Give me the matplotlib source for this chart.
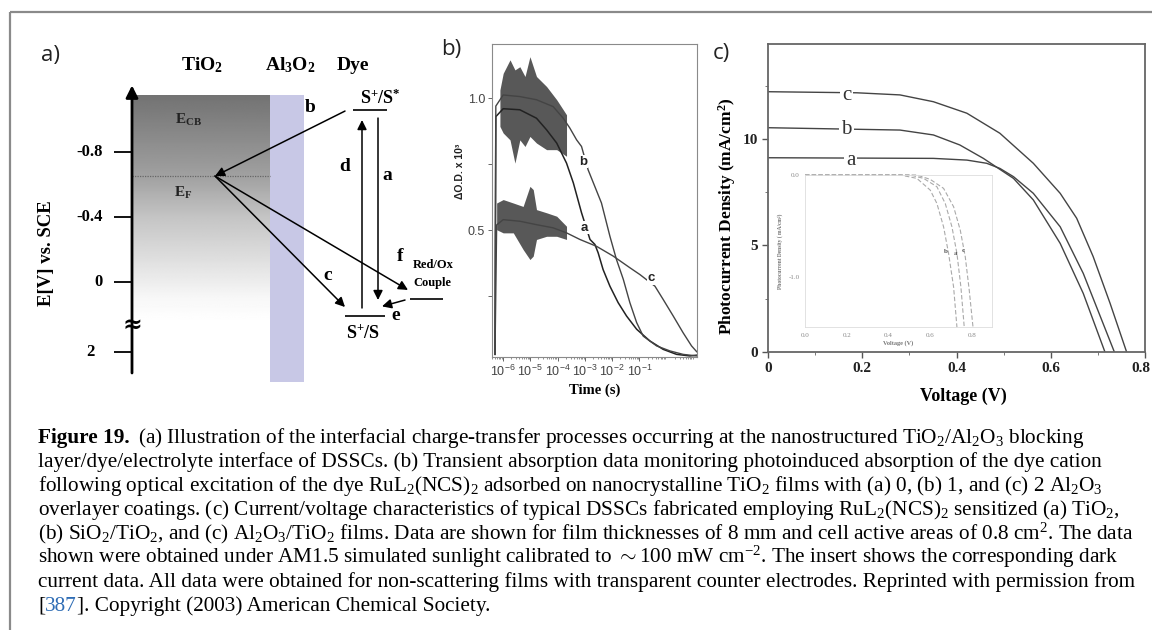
import numpy as np
import matplotlib
matplotlib.use('Agg')
import matplotlib.pyplot as plt
import matplotlib.transforms as mtransforms
from matplotlib.patches import Rectangle
from matplotlib.ticker import FixedLocator, NullFormatter

W, H = 1152, 630
plt.rcParams['font.family'] = ['Liberation Serif', 'DejaVu Serif']
plt.rcParams['mathtext.fontset'] = 'custom'
plt.rcParams['mathtext.rm'] = 'Liberation Serif'
plt.rcParams['mathtext.it'] = 'Liberation Serif:italic'
plt.rcParams['mathtext.bf'] = 'Liberation Serif:bold'
plt.rcParams['mathtext.sf'] = 'Liberation Sans'

# ---------------- data ----------------
# panel a : energy scale (V vs SCE, schematic display positions)
a_tick_pos = [-0.8, -0.4, 0.0, 0.43]
a_tick_lab = ['-0.8', '-0.4', '0', '2']
E_top, E_bottom, E_F = -1.15, 0.62, -0.652
E_Sstar, E_S, E_redox, E_break = -1.058, 0.209, 0.105, 0.265
grad_E = [-1.15, -0.652, -0.40, -0.10, 0.10, 0.25, 0.62]
grad_gray = [0.45, 0.63, 0.77, 0.89, 0.97, 1.0, 1.0]

# panel b : transient absorption (log10 time [s], dOD x 1e3)
a_logt = [-6.29, -6.26, -5.99, -5.38, -4.77, -4.40, -4.03, -3.67, -3.42, -3.12, -2.81,
          -2.63, -2.51, -2.33, -2.08, -1.78, -1.47, -1.10, -0.62, -0.13, 0.36, 0.85, 1.10]
a_od = [0.03, 0.93, 0.96, 0.956, 0.924, 0.88, 0.83, 0.754, 0.679, 0.566, 0.465,
        0.446, 0.414, 0.351, 0.288, 0.226, 0.175, 0.125, 0.081, 0.049, 0.030, 0.024, 0.027]
b_logt = [-6.29, -6.26, -5.99, -5.38, -4.77, -4.16, -3.79, -3.55, -3.30, -3.12, -2.88,
          -2.39, -2.08, -1.84, -1.59, -1.35, -1.10, -0.86, -0.37, 0.12, 0.60, 1.10]
b_od = [0.03, 0.97, 1.012, 1.006, 0.994, 0.968, 0.924, 0.887, 0.842, 0.817, 0.729,
        0.603, 0.477, 0.389, 0.314, 0.226, 0.150, 0.099, 0.062, 0.043, 0.030, 0.024]
c_logt = [-6.29, -6.23, -5.99, -5.38, -4.77, -4.16, -3.67, -3.18, -2.57, -1.96, -1.35,
          -0.98, -0.43, -0.13, 0.24, 0.60, 0.91, 1.10]
c_od = [0.03, 0.52, 0.540, 0.534, 0.521, 0.509, 0.490, 0.465, 0.439, 0.402, 0.358,
        0.332, 0.288, 0.238, 0.175, 0.112, 0.062, 0.040]
# noise envelopes at early times
ab_noise_logt = [-6.11, -5.99, -5.74, -5.56, -5.38, -5.19, -5.01, -4.77, -4.40, -4.03, -3.67]
ab_noise_hi = [1.031, 1.094, 1.145, 1.107, 1.119, 1.082, 1.157, 1.082, 1.044, 0.994, 0.937]
ab_noise_lo = [0.893, 0.868, 0.842, 0.754, 0.842, 0.817, 0.855, 0.830, 0.805, 0.805, 0.780]
c_noise_logt = [-6.23, -5.99, -5.62, -5.26, -5.01, -4.89, -4.77, -4.40, -4.03, -3.67]
c_noise_hi = [0.603, 0.616, 0.603, 0.590, 0.666, 0.654, 0.578, 0.566, 0.553, 0.515]
c_noise_lo = [0.502, 0.490, 0.490, 0.427, 0.389, 0.402, 0.465, 0.477, 0.477, 0.465]
b_xtick_exp = [-6, -5, -4, -3, -2, -1]

# panel c : J-V curves (V, mA/cm2)
jv_c_V = [0.0, 0.188, 0.280, 0.351, 0.422, 0.492, 0.563, 0.620, 0.655, 0.690, 0.726, 0.761]
jv_c_J = [12.22, 12.17, 12.07, 11.75, 11.21, 10.27, 8.86, 7.45, 6.28, 4.48, 2.28, 0.0]
jv_b_V = [0.0, 0.280, 0.351, 0.407, 0.457, 0.521, 0.563, 0.620, 0.669, 0.715]
jv_b_J = [10.53, 10.42, 10.19, 9.72, 9.09, 8.15, 7.14, 5.10, 2.75, 0.0]
jv_a_V = [0.0, 0.351, 0.422, 0.464, 0.492, 0.521, 0.563, 0.620, 0.669, 0.735]
jv_a_J = [9.12, 9.09, 9.01, 8.86, 8.62, 8.23, 7.45, 5.88, 3.69, 0.0]
# inset : dark currents
dk_b_V = [0.0, 0.456, 0.536, 0.600, 0.632, 0.664, 0.688, 0.712, 0.728]
dk_b_J = [0.0, 0.0, -0.033, -0.148, -0.279, -0.508, -0.770, -1.098, -1.492]
dk_a_V = [0.0, 0.504, 0.568, 0.632, 0.672, 0.704, 0.728, 0.747, 0.763]
dk_a_J = [0.0, 0.0, -0.033, -0.115, -0.279, -0.508, -0.770, -1.098, -1.492]
dk_c_V = [0.0, 0.536, 0.600, 0.664, 0.712, 0.744, 0.768, 0.787, 0.805]
dk_c_J = [0.0, 0.0, -0.043, -0.131, -0.311, -0.541, -0.803, -1.131, -1.492]

caption_lines = [
    r'(a) Illustration of the interfacial charge-transfer processes occurring at the nanostructured TiO$_2$/Al$_2$O$_3$ blocking',
    r'layer/dye/electrolyte interface of DSSCs. (b) Transient absorption data monitoring photoinduced absorption of the dye cation',
    r'following optical excitation of the dye RuL$_2$(NCS)$_2$ adsorbed on nanocrystalline TiO$_2$ films with (a) 0, (b) 1, and (c) 2 Al$_2$O$_3$',
    r'overlayer coatings. (c) Current/voltage characteristics of typical DSSCs fabricated employing RuL$_2$(NCS)$_2$ sensitized (a) TiO$_2$,',
    r'(b) SiO$_2$/TiO$_2$, and (c) Al$_2$O$_3$/TiO$_2$ films. Data are shown for film thicknesses of 8 mm and cell active areas of 0.8 cm$^2$. The data',
    r'shown were obtained under AM1.5 simulated sunlight calibrated to $\sim$100 mW cm$^{-2}$. The insert shows the corresponding dark',
    r'current data. All data were obtained for non-scattering films with transparent counter electrodes. Reprinted with permission from',
]
caption_last = ['[', '387', ']. Copyright (2003) American Chemical Society.']


def px(l, t, r, b):
    return [l / W, 1 - b / H, (r - l) / W, (b - t) / H]


fig = plt.figure(figsize=(W / 100, H / 100), dpi=100)

# overlay for frame and caption (pixel coordinates)
ov = fig.add_axes([0, 0, 1, 1], zorder=0)
ov.set_xlim(0, W)
ov.set_ylim(H, 0)
ov.axis('off')
ov.plot([10, W], [12, 12], color='#8a8a8a', lw=1.6, solid_capstyle='butt')
ov.plot([10, 10], [12, H], color='#8a8a8a', lw=1.6, solid_capstyle='butt')

# ---------------- panel a ----------------
axa = fig.add_axes(px(0, 30, 460, 400), zorder=1)
axa.axis('off')
gE = np.linspace(E_top, E_bottom, 300)
gray = np.interp(gE, grad_E, grad_gray)[:, None]
axa.imshow(gray, cmap='gray', vmin=0, vmax=1, aspect='auto', origin='upper',
           extent=(132, 270, E_bottom, E_top), zorder=1, interpolation='bilinear')
axa.add_patch(Rectangle((270, E_top), 34, 0.615 - E_top, facecolor='#c8c8e6', edgecolor='none', zorder=1))
axa.set_xlim(0, 460)
axa.set_ylim(0.7262, -1.5508)
axa.hlines(E_F, 132, 270, colors='#666666', linestyles=(0, (1, 1)), lw=0.9, zorder=2)
axa.annotate('', xy=(132, -1.21), xytext=(132, 0.56),
             arrowprops=dict(arrowstyle='-|>', lw=2.0, color='black', mutation_scale=18,
                             shrinkA=0, shrinkB=0), zorder=3)
axa.hlines(a_tick_pos, 114, 132, colors='black', lw=1.3, zorder=3)
for pos, lab in zip(a_tick_pos, a_tick_lab):
    axa.text(103 if lab != '2' else 95, pos, lab, ha='right', va='center', fontsize=12,
             fontweight='bold')
axa.text(132, E_break, '≈', ha='center', va='center', fontsize=17, fontweight='bold',
         family=['DejaVu Serif'], zorder=4)
axa.text(47, -0.178, 'E[V] vs. SCE', rotation=90, ha='center', va='center', fontsize=13.5,
         fontweight='bold')
axa.text(202, -1.335, r'$\mathbf{TiO_2}$', ha='center', va='center', fontsize=14)
axa.text(290, -1.335, r'$\mathbf{Al_3O_2}$', ha='center', va='center', fontsize=14)
axa.text(353, -1.335, 'Dye', ha='center', va='center', fontsize=14, fontweight='bold')
axa.text(188, -0.997, r'$\mathbf{E_{CB}}$', ha='center', va='center', fontsize=11, color='#222222')
axa.text(183, -0.548, r'$\mathbf{E_{F}}$', ha='center', va='center', fontsize=11, color='#222222')
# levels
axa.hlines(E_Sstar, 353, 387, colors='black', lw=1.2)
axa.hlines(E_S, 345, 385, colors='black', lw=1.2)
axa.hlines(E_redox, 410, 443, colors='black', lw=1.2)
axa.text(380, -1.132, r'$\mathbf{S^{+}/S^{*}}$', ha='center', va='center', fontsize=13)
axa.text(363, 0.314, r'$\mathbf{S^{+}/S}$', ha='center', va='center', fontsize=13)
axa.text(413, -0.105, 'Red/Ox', ha='left', va='center', fontsize=9, fontweight='bold')
axa.text(413, 0.006, 'Couple', ha='left', va='center', fontsize=9, fontweight='bold')
arrow_kw = dict(arrowstyle='-|>', lw=1.1, color='black', mutation_scale=14, shrinkA=0, shrinkB=0)
arrows = [((345, -1.052), (215, E_F)),
          ((215, E_F), (345, 0.154)),
          ((215, E_F), (408, 0.049)),
          ((362, 0.16), (362, -0.997)),
          ((378, -1.009), (378, 0.111)),
          ((405, 0.111), (382, 0.150))]
for start, end in arrows:
    axa.annotate('', xy=end, xytext=start, arrowprops=arrow_kw, zorder=5)
for lab, x, y in [('b', 310, -1.071), ('d', 345, -0.708), ('a', 387, -0.658),
                  ('c', 328, -0.043), ('f', 400, -0.154), ('e', 396, 0.209)]:
    axa.text(x, y, lab, ha='center', va='center', fontsize=14, fontweight='bold')

# panel labels
for lab, x, y in [('a)', 50, 55), ('b)', 451, 50), ('c)', 721, 53)]:
    fig.text(x / W, 1 - y / H, lab, ha='center', va='center', fontsize=16,
             family=['Open Sans', 'DejaVu Sans'], color='#222222')

# ---------------- panel b ----------------
axb = fig.add_axes(px(492, 44, 697, 357), zorder=1)
axb.set_xscale('log')
axb.fill_between(10 ** np.array(ab_noise_logt), ab_noise_lo, ab_noise_hi, color='#111111',
                 alpha=0.7, lw=0)
axb.fill_between(10 ** np.array(c_noise_logt), c_noise_lo, c_noise_hi, color='#111111',
                 alpha=0.7, lw=0)
axb.plot(10 ** np.array(a_logt), a_od, color='#222222', lw=1.1)
axb.plot(10 ** np.array(b_logt), b_od, color='#444444', lw=1.0)
axb.plot(10 ** np.array(c_logt), c_od, color='#444444', lw=1.0)
for lab, lt, v in [('b', -3.06, 0.76), ('a', -3.0, 0.51), ('c', -0.56, 0.32)]:
    axb.text(10 ** lt, v, lab, ha='center', va='center', fontsize=9.5, fontweight='bold',
             family=['Liberation Sans'], color='#222222',
             bbox=dict(facecolor='white', edgecolor='none', pad=0.6))
axb.set_xlim(10 ** -6.4, 10 ** 1.11)
axb.set_ylim(0.02, 1.205)
axb.xaxis.set_major_locator(FixedLocator([10.0 ** e for e in b_xtick_exp]))
axb.set_xticklabels([r'$\mathsf{10^{%d}}$' % e for e in b_xtick_exp])
axb.xaxis.set_minor_locator(FixedLocator([m * 10.0 ** e for e in range(-7, 2) for m in range(2, 10)]))
axb.xaxis.set_minor_formatter(NullFormatter())
axb.set_yticks([0.25, 0.5, 0.75, 1.0])
axb.set_yticklabels(['', '0.5', '', '1.0'])
axb.tick_params(axis='both', which='major', direction='out', length=3, width=0.7,
                colors='#666666', labelcolor='#444444', pad=2)
axb.tick_params(axis='x', which='major', labelsize=9)
axb.tick_params(axis='y', which='major', labelsize=9)
axb.tick_params(axis='x', which='minor', direction='out', length=1.6, width=0.5, colors='#666666')
for lab in axb.get_yticklabels():
    lab.set_family(['Liberation Sans'])
for s in axb.spines.values():
    s.set_color('#8a8a8a')
    s.set_linewidth(0.8)
axb.set_xlabel('Time (s)', fontsize=10.5, fontweight='bold', labelpad=3)
axb.set_ylabel('ΔO.D. x 10³', fontsize=7.5, fontweight='bold', family=['Liberation Sans'],
               color='#222222')
axb.yaxis.set_label_coords(-0.132, 0.594)

# ---------------- panel c ----------------
axc = fig.add_axes(px(768, 44, 1145, 352), zorder=1)
axc.plot(jv_c_V, jv_c_J, color='#444444', lw=1.0)
axc.plot(jv_b_V, jv_b_J, color='#444444', lw=1.0)
axc.plot(jv_a_V, jv_a_J, color='#444444', lw=1.0)
for lab, v, j in [('c', 0.167, 12.05), ('b', 0.167, 10.45), ('a', 0.175, 9.0)]:
    axc.text(v, j, lab, ha='center', va='center', fontsize=15, color='#333333',
             bbox=dict(facecolor='white', edgecolor='none', pad=1.5))
axc.set_xlim(0, 0.8)
axc.set_ylim(0, 14.46)
axc.set_xticks([0, 0.2, 0.4, 0.6, 0.8])
axc.set_xticklabels(['0', '0.2', '0.4', '0.6', '0.8'])
axc.set_yticks([0, 5, 10])
axc.set_yticklabels(['0', '5', '10'])
axc.set_xticks([0.1, 0.3, 0.5, 0.7], minor=True)
axc.set_yticks([2.5, 7.5, 12.5], minor=True)
axc.tick_params(axis='both', which='major', direction='out', length=4, width=1.0,
                colors='#555555', labelsize=11, labelcolor='#222222', pad=3)
axc.tick_params(axis='both', which='minor', direction='out', length=2, width=0.7, colors='#777777')
for lab in axc.get_xticklabels() + axc.get_yticklabels():
    lab.set_fontweight('bold')
last = axc.get_xticklabels()[-1]
last.set_transform(last.get_transform() + mtransforms.ScaledTranslation(-4 / 100, 0, fig.dpi_scale_trans))
for s in axc.spines.values():
    s.set_color('#666666')
    s.set_linewidth(1.3)
axc.set_xlabel('Voltage (V)', fontsize=13, fontweight='bold')
axc.xaxis.set_label_coords(0.517, -0.115)
axc.set_ylabel(r'Photocurrent Density (mA/cm$^\mathbf{2}$)', fontsize=12.5, fontweight='bold')
axc.yaxis.set_label_coords(-0.08, 0.44)

# inset
axi = fig.add_axes(px(805, 175, 992, 327), zorder=2)
for V, J in [(dk_b_V, dk_b_J), (dk_a_V, dk_a_J), (dk_c_V, dk_c_J)]:
    axi.plot(V, J, color='#aaaaaa', lw=0.8, ls=(0, (4, 2)), clip_on=False)
for lab, v, j in [('b', 0.675, -0.754), ('a', 0.72, -0.77), ('c', 0.76, -0.74)]:
    axi.text(v, j, lab, ha='center', va='center', fontsize=5, fontweight='bold', color='#555555')
axi.set_xlim(0, 0.896)
axi.set_ylim(-1.49, 0.0)
axi.set_xticks([0, 0.2, 0.4, 0.6, 0.8])
axi.set_xticklabels(['0.0', '0.2', '0.4', '0.6', '0.8'])
axi.set_yticks([0.0, -1.0])
axi.set_yticklabels(['0.0', '-1.0'])
axi.tick_params(axis='both', length=0, labelsize=5, labelcolor='#888888', pad=4)
for s in axi.spines.values():
    s.set_color('#dddddd')
    s.set_linewidth(0.6)
axi.set_xlabel('Voltage (V)', fontsize=4.5, fontweight='bold', color='#777777', labelpad=2)
axi.set_ylabel('Photocurrent Density ( mA/cm²)', fontsize=4, fontweight='bold', color='#777777',
               labelpad=4)
axi.patch.set_alpha(0)

# ---------------- caption ----------------
fig.canvas.draw()
r = fig.canvas.get_renderer()
probe = ov.text(38, 500, caption_lines[6], fontsize=13, va='baseline')
cap_fs = 13 * (1133 - 38) / probe.get_window_extent(r).width
probe.remove()
base_y = [443 + 24 * i for i in range(8)]
t0 = ov.text(38, base_y[0], 'Figure 19.', fontsize=cap_fs, fontweight='bold', va='baseline')
w0 = t0.get_window_extent(r).width
ov.text(38 + w0 + 8, base_y[0], caption_lines[0], fontsize=cap_fs, va='baseline')
for i in range(1, 7):
    ov.text(38, base_y[i], caption_lines[i], fontsize=cap_fs, va='baseline')
x = 38
for part, col in zip(caption_last, ['black', '#2f6db5', 'black']):
    t = ov.text(x, base_y[7], part, fontsize=cap_fs, va='baseline', color=col)
    x += t.get_window_extent(r).width

fig.savefig('out.png', dpi=100)
